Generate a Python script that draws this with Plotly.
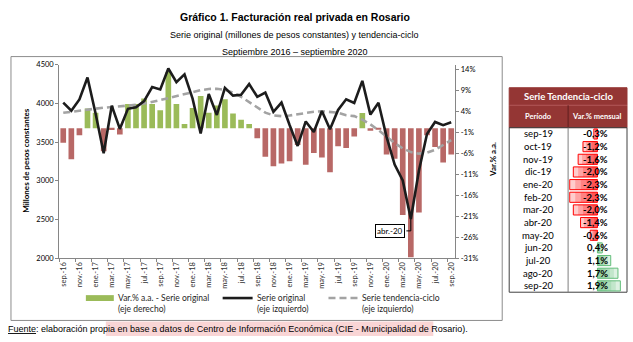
import plotly.graph_objects as go

# ---------------- data ----------------
months = ["sep.-16", "oct.-16", "nov.-16", "dic.-16", "ene.-17", "feb.-17", "mar.-17", "abr.-17",
          "may.-17", "jun.-17", "jul.-17", "ago.-17", "sep.-17", "oct.-17", "nov.-17", "dic.-17",
          "ene.-18", "feb.-18", "mar.-18", "abr.-18", "may.-18", "jun.-18", "jul.-18", "ago.-18",
          "sep.-18", "oct.-18", "nov.-18", "dic.-18", "ene.-19", "feb.-19", "mar.-19", "abr.-19",
          "may.-19", "jun.-19", "jul.-19", "ago.-19", "sep.-19", "oct.-19", "nov.-19", "dic.-19",
          "ene.-20", "feb.-20", "mar.-20", "abr.-20", "may.-20", "jun.-20", "jul.-20", "ago.-20",
          "sep.-20"]

serie_original = [4010, 3905, 4050, 4335, 3870, 3355, 3970, 3670,
                  3930, 3950, 4030, 4210, 4180, 4450, 4275, 4375,
                  4060, 3610, 4120, 3850, 4200, 4100, 4110, 4250,
                  4085, 4140, 3890, 4010, 3720, 3450, 3766, 3630,
                  3900, 3665, 3915, 4052, 4005, 4290, 3855, 4007,
                  3567, 3210, 3005, 2505, 3130, 3605, 3760, 3718,
                  3755]

tendencia_ciclo = [3878, 3893, 3908, 3922, 3934, 3944, 3952, 3960,
                   3969, 3981, 3997, 4017, 4042, 4068, 4095, 4120,
                   4145, 4170, 4186, 4188, 4175, 4140, 4085, 4020,
                   3945, 3880, 3845, 3835, 3842, 3860, 3878, 3892,
                   3898, 3893, 3880, 3847, 3835, 3789, 3728, 3654,
                   3570, 3488, 3418, 3370, 3350, 3363, 3400, 3458,
                   3524]

var_aa = [-3.5, -7.4, -1.7, 4.7, 3.7, -5.5, -0.4, -1.5,
          5.8, 5.8, 7.1, 5.8, 4.3, 13.4, 5.8, 1.0,
          4.8, 7.7, 3.7, 5.4, 6.9, 3.5, 2.0, 1.0,
          -2.4, -6.8, -9.1, -8.4, -7.9, -4.0, -8.7, -5.9,
          -7.0, -10.5, -4.3, -4.7, -2.0, 3.6, -0.6, -0.2,
          -6.3, -7.3, -20.7, -30.8, -20.1, -1.7, -4.5, -8.2,
          -6.3]

tabla_periodos = ["sep-19", "oct-19", "nov-19", "dic-19", "ene-20", "feb-20", "mar-20",
                  "abr-20", "may-20", "jun-20", "jul-20", "ago-20", "sep-20"]
tabla_var_mensual = [-0.3, -1.2, -1.6, -2.0, -2.3, -2.3, -2.0, -1.4, -0.6, 0.4, 1.1, 1.7, 1.9]

left_ticks = [2000, 2500, 3000, 3500, 4000, 4500]
right_ticks = [-31, -26, -21, -16, -11, -6, -1, 4, 9, 14]
etiqueta_abr = "abr.-20"

# ---------------- styling ----------------
W, H = 633, 342
def px(x): return x / W
def py(y): return 1 - y / H

GREEN = "#9BBB59"
RED = "#B86866"
AXIS = "#868686"
CAL = "Lato"
ARIAL = "Liberation Sans"

idx = list(range(len(months)))
fig = go.Figure()

fig.add_trace(go.Bar(
    x=idx, y=var_aa, width=0.7,
    marker=dict(color=[GREEN if v >= 0 else RED for v in var_aa], line=dict(width=0)),
    xaxis="x", yaxis="y", hoverinfo="skip"))
fig.add_trace(go.Scatter(
    x=idx, y=tendencia_ciclo, mode="lines",
    line=dict(color="#A3A3A3", width=2.6, dash="7px,4px"),
    xaxis="x", yaxis="y2", hoverinfo="skip"))
fig.add_trace(go.Scatter(
    x=idx, y=serie_original, mode="lines",
    line=dict(color="#1C1C1C", width=2.6),
    xaxis="x", yaxis="y2", hoverinfo="skip"))

# table data bars (gradient imitation through layers)
layers = [1.0, 0.8, 0.6, 0.4, 0.2]
for k, f in enumerate(layers):
    fills = ["rgba(255,0,0,0.20)" if v < 0 else "rgba(99,190,123,0.22)" for v in tabla_var_mensual]
    lines = ["rgba(255,0,0,1)" if v < 0 else "rgba(99,190,123,1)" for v in tabla_var_mensual]
    fig.add_trace(go.Bar(
        y=tabla_periodos, x=[v * f for v in tabla_var_mensual], base=0, orientation="h",
        width=0.8,
        marker=dict(color=fills, line=dict(color=lines, width=1 if k == 0 else 0)),
        xaxis="x3", yaxis="y3", hoverinfo="skip"))

shapes = []
annotations = []

# frame of chart
shapes.append(dict(type="rect", xref="paper", yref="paper", x0=px(10), x1=px(502),
                   y0=py(325), y1=py(54), line=dict(color="#8C8C8C", width=1), layer="below"))

# titles
annotations += [
    dict(text="<b>Gráfico 1. Facturación real privada en Rosario</b>", x=px(294), y=py(13),
         font=dict(family=ARIAL, size=10.5, color="#000")),
    dict(text="Serie original (millones de pesos constantes) y tendencia-ciclo", x=px(294), y=py(32),
         font=dict(family=ARIAL, size=9, color="#000")),
    dict(text="Septiembre 2016 – septiembre 2020", x=px(294), y=py(49),
         font=dict(family=ARIAL, size=9, color="#000")),
]

# axis titles
annotations += [
    dict(text="<b>Millones de pesos constantes</b>", x=px(25), y=py(160), textangle=-90,
         font=dict(family=CAL, size=8, color="#000")),
    dict(text="<b>Var.% a.a.</b>", x=px(493), y=py(160), textangle=-90,
         font=dict(family=CAL, size=8, color="#000")),
]

# abr.-20 callout
i_abr = months.index("abr.-20")
y_box = 2352
annotations.append(dict(text=etiqueta_abr, x=i_abr - 2.53, y=y_box, xref="x", yref="y2",
                        bgcolor="white", bordercolor="#000", borderwidth=1,
                        borderpad=1, font=dict(family=CAL, size=8, color="#000")))
shapes.append(dict(type="path", xref="x", yref="y2",
                   path=f"M {i_abr},{serie_original[i_abr]} L {i_abr},{y_box} L {i_abr - 0.55},{y_box}",
                   line=dict(color="#000", width=1)))

# legend (manual)
shapes += [
    dict(type="rect", xref="paper", yref="paper", x0=px(85), x1=px(113), y0=py(305), y1=py(299),
         fillcolor=GREEN, line=dict(width=0)),
    dict(type="line", xref="paper", yref="paper", x0=px(222), x1=px(252), y0=py(302), y1=py(302),
         line=dict(color="#1C1C1C", width=2.6)),
    dict(type="line", xref="paper", yref="paper", x0=px(328), x1=px(358), y0=py(302), y1=py(302),
         line=dict(color="#A3A3A3", width=2.6, dash="7px,4px")),
]
leg_font = dict(family=CAL, size=8.5, color="#262626")
for xx, txt in [(115, "Var.% a.a. - Serie original<br>(eje derecho)"),
                (254, "Serie original<br>(eje izquierdo)"),
                (360, "Serie tendencia-ciclo<br>(eje izquierdo)")]:
    annotations.append(dict(text=txt, x=px(xx), y=py(307.5), xanchor="left", align="left",
                            font=leg_font))

# source
shapes.append(dict(type="rect", xref="paper", yref="paper", x0=px(105), x1=px(433),
                   y0=py(341), y1=py(326), fillcolor="#F9D5D5", line=dict(width=0), layer="below"))
annotations.append(dict(
    text="<u>Fuente</u>: elaboración propia en base a datos de Centro de Información Económica (CIE - Municipalidad de Rosario).",
    x=px(5), y=py(333.5), xanchor="left", font=dict(family=ARIAL, size=9, color="#000")))

# table
DARK = "#943634"
shapes += [
    dict(type="rect", xref="paper", yref="paper", x0=px(509), x1=px(627), y0=py(104), y1=py(86),
         fillcolor=DARK, line=dict(color=DARK, width=1), layer="below"),
    dict(type="rect", xref="paper", yref="paper", x0=px(509), x1=px(627), y0=py(127), y1=py(104),
         fillcolor=DARK, line=dict(color=DARK, width=1), layer="below"),
    dict(type="line", xref="paper", yref="paper", x0=px(509), x1=px(627), y0=py(104), y1=py(104),
         line=dict(color="#B35A58", width=1)),
    dict(type="line", xref="paper", yref="paper", x0=px(568), x1=px(568), y0=py(127), y1=py(104),
         line=dict(color="#5E1F1E", width=1)),
    dict(type="rect", xref="paper", yref="paper", x0=px(509), x1=px(627), y0=py(296), y1=py(127),
         line=dict(color="#404040", width=1), layer="below"),
    dict(type="line", xref="paper", yref="paper", x0=px(568), x1=px(568), y0=py(296), y1=py(127),
         line=dict(color="#7F7F7F", width=1)),
]
annotations += [
    dict(text="<b>Serie Tendencia-ciclo</b>", x=px(568), y=py(95.5),
         font=dict(family=CAL, size=9.5, color="white")),
    dict(text="<b>Período</b>", x=px(538), y=py(115.5), font=dict(family=CAL, size=7.5, color="white")),
    dict(text="<b>Var.% mensual</b>", x=px(597), y=py(115.5), font=dict(family=CAL, size=7.5, color="white")),
]
for p, v in zip(tabla_periodos, tabla_var_mensual):
    annotations.append(dict(text=p, x=px(538), xref="paper", y=p, yref="y3",
                            font=dict(family=CAL, size=9.5, color="#000")))
    annotations.append(dict(text="<b>" + f"{v:.1f}%".replace(".", ",") + "</b>", x=px(610),
                            xanchor="right", xref="paper", y=p, yref="y3",
                            font=dict(family=CAL, size=9.5, color="#000")))

for a in annotations:
    a.setdefault("xref", "paper")
    a.setdefault("yref", "paper")
    a.setdefault("showarrow", False)
    a.setdefault("xanchor", "center")
    a.setdefault("yanchor", "middle")

fig.update_layout(
    width=W, height=H, margin=dict(l=0, r=0, t=0, b=0),
    paper_bgcolor="white", plot_bgcolor="rgba(0,0,0,0)",
    barmode="overlay", showlegend=False,
    font=dict(family=CAL, color="#000"),
    shapes=shapes, annotations=annotations,
    xaxis=dict(domain=[px(58.3), px(455)], range=[-0.5, 48.5], anchor="y",
               tickmode="array", tickvals=idx[::2], ticktext=months[::2], tickangle=-90,
               ticks="", showline=True, linecolor=AXIS, linewidth=1, showgrid=False, zeroline=False,
               tickfont=dict(family=CAL, size=7.5, color="#333"),
               minor=dict(ticks="outside", ticklen=3, tickcolor=AXIS, tick0=-0.5, dtick=2,
                          showgrid=False)),
    yaxis=dict(domain=[py(261), py(62.3)], range=[-31, 15.16], side="right", anchor="x",
               tickmode="array", tickvals=right_ticks, ticktext=[f"{t}%" for t in right_ticks],
               ticks="outside", ticklen=3, tickcolor=AXIS, showline=True, linecolor=AXIS,
               showgrid=False, zeroline=False, tickfont=dict(family=CAL, size=7.5, color="#000")),
    yaxis2=dict(overlaying="y", side="left", anchor="x", range=[2000, 4500],
                tickmode="array", tickvals=left_ticks, ticktext=[str(t) for t in left_ticks],
                ticks="outside", ticklen=3, tickcolor=AXIS, showline=True, linecolor=AXIS,
                showgrid=False, zeroline=False, tickfont=dict(family=CAL, size=7.5, color="#000")),
    xaxis3=dict(domain=[px(569), px(627)], range=[-2.35, 2.45], anchor="y3", visible=False),
    yaxis3=dict(domain=[py(296), py(127)], anchor="x3", type="category",
                categoryorder="array", categoryarray=tabla_periodos,
                range=[12.5, -0.5], visible=False),
)

fig.write_html("out.html")
